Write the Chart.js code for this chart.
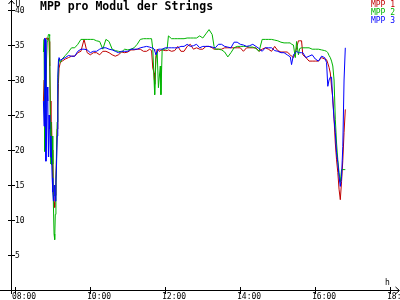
<!DOCTYPE html>
<html>
<head>
<meta charset="utf-8">
<script src="https://cdn.jsdelivr.net/npm/chart.js@4"></script>
<style>
  html, body { margin: 0; padding: 0; background: #fff; }
  canvas { display: block; }
</style>
</head>
<body>
<canvas id="mppChart" width="400" height="300"></canvas>
<script>
const times = [
  '08:45','08:46','08:47','08:48','08:49','08:50','08:51','08:52','08:53','08:54',
  '08:55','08:56','08:57','08:58','08:59','09:00','09:01','09:02','09:03','09:04',
  '09:05','09:06','09:07','09:08','09:09','09:10','09:12','09:15','09:20','09:25',
  '09:30','09:35','09:40','09:45','09:50','09:55','10:00','10:05','10:10','10:15',
  '10:20','10:25','10:30','10:35','10:40','10:45','10:50','10:55','11:00','11:05',
  '11:10','11:15','11:20','11:25','11:30','11:35','11:38','11:40','11:42','11:43',
  '11:45','11:47','11:49','11:50','11:52','11:53','11:55','12:00','12:03','12:05',
  '12:10','12:15','12:20','12:25','12:30','12:35','12:40','12:45','12:50','12:55',
  '13:00','13:05','13:10','13:15','13:18','13:20','13:25','13:30','13:35','13:40',
  '13:45','13:50','13:55','14:00','14:05','14:10','14:15','14:20','14:25','14:30',
  '14:35','14:40','14:45','14:50','14:55','15:00','15:05','15:10','15:15','15:20',
  '15:22','15:25','15:28','15:30','15:33','15:35','15:38','15:40','15:45','15:50',
  '15:55','16:00','16:05','16:10','16:15','16:18','16:20','16:22','16:24','16:26',
  '16:28','16:30','16:32','16:34','16:36','16:38','16:40','16:42','16:44','16:46','16:48'
];

const mpp1 = [
  27, 30, 33, 35.8, 36, 36, 35.8, 36, 36, 35.5,
  32, 27, 22, 24, 20, 16, 13.6, 12.5, 11.8, 13.5,
  16, 19, 23, 26, 29.5, 31.7, 32.5, 32.7, 33.0, 33.2,
  33.4, 33.4, 33.9, 34.1, 35.8, 33.9, 33.6, 33.9, 33.9, 33.6,
  34.1, 34.1, 33.9, 33.6, 33.4, 33.6, 34.0, 33.9, 34.0, 34.3,
  34.3, 34.4, 34.4, 34.1, 34.1, 34.4, 34.2, 31.7, 31.0, 29.4,
  33.5, 34.4, 34.2, 34.1, 34.2, 34.2, 34.3, 34.2, 34.2, 34.3,
  34.1, 34.2, 34.8, 34.1, 34.1, 34.8, 35.1, 34.4, 34.6, 34.4,
  34.4, 34.8, 34.8, 34.6, 34.4, 34.4, 34.4, 34.4, 34.6, 34.6,
  34.6, 34.6, 34.6, 34.6, 34.1, 34.6, 34.6, 34.6, 34.6, 34.1,
  34.4, 34.6, 34.4, 34.1, 34.8, 34.2, 34.0, 34.0, 34.0, 33.6,
  33.4, 33.2, 33.8, 34.6, 35.6, 35.6, 35.6, 33.6, 33.2, 32.7,
  32.7, 32.7, 32.7, 33.2, 33.0, 32.9, 32.4, 31.8, 31.0, 29,
  27.4, 24.5, 21, 18.6, 16.8, 14.4, 12.9, 15.5, 18.5, 22.5, 25.8
];

const mpp2 = [
  34, 35.8, 19.8, 20.5, 25, 33, 35.5, 36, 36.5, 36.5,
  36.3, 24, 18, 17.9, 22, 18, 12, 8, 7.2, 10.8,
  14, 20.4, 24, 29, 32, 33, 32.5, 33, 33.5, 34.0,
  34.6, 34.6, 35.1, 35.8, 35.8, 35.8, 35.8, 35.8, 35.6, 35.5,
  34.4, 35.8, 35.5, 34.4, 34.2, 34.1, 34.0, 34.4, 34.3, 34.4,
  34.6, 35.1, 35.8, 35.9, 35.9, 35.9, 35.9, 34.4, 30, 27.9,
  33, 34.0, 28.9, 30, 32, 27.9, 34.4, 34.4, 34.5, 36.3,
  35.9, 35.9, 35.9, 35.9, 35.9, 36.0, 36.0, 36.0, 36.0, 36.3,
  36.0, 36.6, 37.2, 36.5, 34.8, 34.4, 34.4, 34.3, 34.0, 33.3,
  33.9, 34.6, 34.8, 34.8, 34.8, 34.8, 34.7, 34.7, 34.5, 34.1,
  35.8, 35.8, 35.8, 35.8, 35.7, 35.6, 35.4, 35.3, 35.3, 35.3,
  35.1, 35.0, 33.2, 35.5, 33.6, 34.5, 34.6, 34.6, 34.6, 34.6,
  34.4, 34.4, 34.4, 34.3, 34.2, 34.1, 33.9, 33.5, 33.2, 32.7,
  32.0, 30.0, 24.4, 21, 18.6, 16.8, 15.4, 17.2, 17.2, 17.2, 17.2
];

const mpp3 = [
  27, 23.4, 36, 35.8, 18.4, 22, 29, 27, 19, 25,
  23, 19, 22, 19, 16, 14, 12.7, 13.5, 15, 12.7,
  15.4, 18, 22, 30.4, 32.7, 33.2, 32.8, 33.0, 33.2, 33.5,
  33.4, 33.4, 34.1, 34.4, 34.4, 34.3, 33.9, 34.1, 34.1, 34.4,
  34.6, 34.6, 34.4, 34.3, 34.1, 33.9, 34.1, 34.1, 34.1, 34.4,
  34.4, 34.4, 34.6, 34.7, 34.8, 34.7, 34.6, 34.6, 34.4, 34.2,
  33.6, 34.0, 34.4, 34.4, 34.4, 34.4, 34.4, 34.6, 34.6, 34.6,
  34.6, 34.6, 34.6, 34.8, 34.8, 35.1, 34.8, 34.9, 35.1, 34.6,
  34.8, 34.8, 34.8, 34.7, 34.6, 34.6, 35.1, 35.1, 34.8, 34.7,
  34.6, 35.4, 35.4, 35.1, 35.0, 34.8, 34.9, 35.1, 34.8, 34.5,
  34.1, 34.6, 34.6, 34.6, 34.2, 34.1, 33.9, 33.9, 33.6, 33.3,
  32.2, 33.6, 33.9, 34.1, 33.9, 33.9, 33.9, 33.9, 33.2, 33.4,
  33.6, 33.0, 32.7, 33.4, 33.2, 32.5, 29.1, 30.0, 30.4, 30.4,
  27, 24.4, 22.5, 19.6, 18.2, 16.2, 14.8, 16.2, 20.5, 30, 34.6
];

const xTicks = ['08:00', '10:00', '12:00', '14:00', '16:00', '18:00'];
const yTicks = [5, 10, 15, 20, 25, 30, 35, 40];

const toHours = s => Number(s.slice(0, 2)) + Number(s.slice(3)) / 60;

function points(values) {
    return times.map((t, i) => ({ x: toHours(t), y: values[i] }));
}

const mono = '"DejaVu Sans Mono", "Liberation Mono", monospace';

// axes with arrows, tick crosses, title and the small legend top right
const axesPlugin = {
    id: 'axes',
    beforeDraw(chart) {
        const ctx = chart.ctx;
        ctx.save();
        ctx.fillStyle = '#fff';
        ctx.fillRect(0, 0, chart.width, chart.height);
        ctx.restore();
    },
    afterDraw(chart) {
        const ctx = chart.ctx;
        const xs = chart.scales.x;
        const ys = chart.scales.y;
        const ax = Math.round(chart.chartArea.left) + 0.5;
        const ay = Math.round(ys.getPixelForValue(0)) + 0.5;

        ctx.save();
        ctx.strokeStyle = '#000';
        ctx.fillStyle = '#000';
        ctx.lineWidth = 1;

        ctx.beginPath();
        ctx.moveTo(ax, 0);
        ctx.lineTo(ax, 294);
        ctx.moveTo(0, ay);
        ctx.lineTo(399, ay);
        // arrow heads
        ctx.moveTo(ax - 3, 4);
        ctx.lineTo(ax, 0.5);
        ctx.lineTo(ax + 3, 4);
        ctx.moveTo(395.5, ay - 3.5);
        ctx.lineTo(399.5, ay);
        ctx.lineTo(395.5, ay + 3.5);
        ctx.stroke();

        ctx.font = '8px ' + mono;
        ctx.textBaseline = 'middle';
        ctx.textAlign = 'left';
        yTicks.forEach(v => {
            const y = Math.round(ys.getPixelForValue(v)) + 0.5;
            ctx.beginPath();
            ctx.moveTo(ax - 3.5, y);
            ctx.lineTo(ax + 3.5, y);
            ctx.stroke();
            ctx.fillText(String(v), ax + 3.5, y + 0.5);
        });

        ctx.textBaseline = 'alphabetic';
        xTicks.forEach(t => {
            const x = Math.round(xs.getPixelForValue(toHours(t))) + 0.5;
            ctx.beginPath();
            ctx.moveTo(x, ay - 3.5);
            ctx.lineTo(x, ay + 3.5);
            ctx.stroke();
            ctx.fillText(t, x - 3.5, 299);
        });

        ctx.fillText('U', ax + 4, 7);
        ctx.fillText('h', 385, 285);

        ctx.font = 'bold 11.5px ' + mono;
        ctx.fillText('MPP pro Modul der Strings', 40, 10);

        ctx.font = '8px ' + mono;
        ctx.textAlign = 'right';
        chart.data.datasets.forEach((ds, i) => {
            ctx.fillStyle = ds.borderColor;
            ctx.fillText(ds.label, 395, 7 + i * 8);
        });
        ctx.restore();
    }
};

const ctx = document.getElementById('mppChart').getContext('2d');
new Chart(ctx, {
    type: 'line',
    data: {
        datasets: [
            { label: 'MPP 1', data: points(mpp1), borderColor: '#c00000', order: 3 },
            { label: 'MPP 2', data: points(mpp2), borderColor: '#00b400', order: 2 },
            { label: 'MPP 3', data: points(mpp3), borderColor: '#0000ff', order: 1 }
        ]
    },
    options: {
        responsive: false,
        animation: false,
        devicePixelRatio: 1,
        layout: { padding: { left: 11, right: 1, top: 10, bottom: 10 } },
        scales: {
            x: { type: 'linear', min: 7.885, max: 18.232, display: false },
            y: { min: 0, max: 40, display: false }
        },
        elements: {
            point: { radius: 0 },
            line: { borderWidth: 1, tension: 0, fill: false }
        },
        plugins: {
            legend: { display: false },
            title: { display: false },
            tooltip: { enabled: false }
        }
    },
    plugins: [axesPlugin]
});
</script>
</body>
</html>
